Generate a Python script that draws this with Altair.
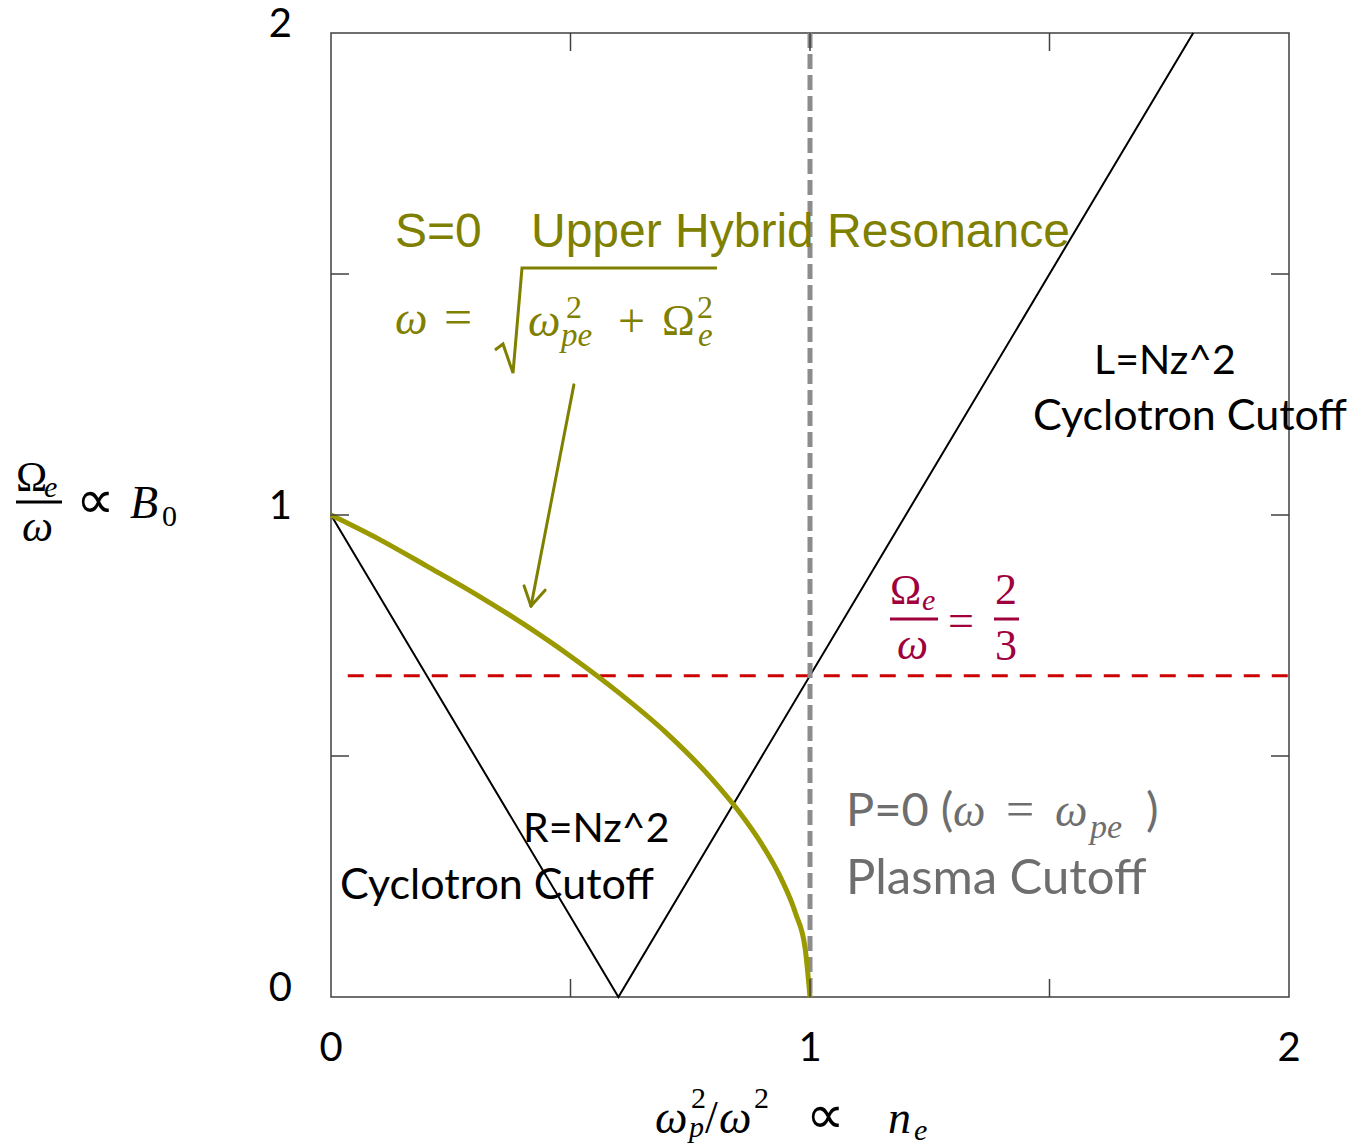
import altair as alt
import pandas as pd

# ---- data -------------------------------------------------------------
# R / L cyclotron cutoff lines (V shape)
cutoff_x = [0.0, 0.6, 1.8]
cutoff_y = [1.0, 0.0, 2.0]

# upper hybrid resonance curve S = 0
uh_x = [0.0, 0.1, 0.2, 0.3, 0.4, 0.5, 0.6, 0.7, 0.8, 0.85, 0.9, 0.94, 0.97, 0.99, 1.0]
uh_y = [1.0, 0.95, 0.894, 0.837, 0.775, 0.707, 0.632, 0.548, 0.447, 0.387, 0.316, 0.245, 0.173, 0.1, 0.0]

# Omega_e / omega = 2/3 level and plasma cutoff position
ratio_level = 2 / 3
ratio_span = [0.035, 2.0]
plasma_x = 1.0

# axis ticks and labels
minor_ticks = [0.5, 1.0, 1.5]
tick_labels = [0, 1, 2]

# annotation arrow (tail -> tip, plus two head barbs)
arrow_x = [0.507, 0.4175]
arrow_y = [1.270, 0.811]
barb_x = [0.403, 0.447]
barb_y = [0.853, 0.844]

# ---- layout -----------------------------------------------------------
W, H = 958, 964
OX, OY = 331, 33          # plot origin inside the page

OLIVE_TXT = "#808000"
OLIVE_LINE = "#9a9a00"
CRIMSON = "#a0003c"
GREY_TXT = "#6e6e6e"
SANS = "Lato"
MATH = "Liberation Serif"
SYM = "DejaVu Sans"

xs = alt.Scale(domain=[0, 2], nice=False, zero=False)
ys = alt.Scale(domain=[0, 2], nice=False, zero=False)
hidden_axis = alt.Axis(labels=False, ticks=False, domain=False, grid=False, title=None)


def txt(s, px, py, size, color="black", font=SANS, italic=False, align="left"):
    """Text placed by page pixel position (left edge, alphabetic baseline)."""
    return alt.Chart(pd.DataFrame({"t": [s]})).mark_text(
        font=font,
        fontSize=size,
        fontStyle="italic" if italic else "normal",
        color=color,
        align=align,
        baseline="alphabetic",
    ).encode(text="t:N", x=alt.value(px - OX), y=alt.value(py - OY))


def seg(x1, y1, x2, y2, color, width):
    """Straight pen stroke given in page pixels (fraction bars)."""
    return alt.Chart(pd.DataFrame({"a": [0]})).mark_rule(
        color=color, strokeWidth=width
    ).encode(
        x=alt.value(x1 - OX), x2=alt.value(x2 - OX),
        y=alt.value(y1 - OY), y2=alt.value(y2 - OY),
    )


# ---- curves -----------------------------------------------------------
cut_df = pd.DataFrame({"x": cutoff_x, "y": cutoff_y, "o": range(len(cutoff_x))})
cutoff = alt.Chart(cut_df).mark_line(color="black", strokeWidth=2).encode(
    x=alt.X("x:Q", scale=xs, axis=hidden_axis),
    y=alt.Y("y:Q", scale=ys, axis=hidden_axis),
    order="o:Q",
)

uh_df = pd.DataFrame({"x": uh_x, "y": uh_y, "o": range(len(uh_x))})
uh = alt.Chart(uh_df).mark_line(
    color=OLIVE_LINE, strokeWidth=5, interpolate="monotone"
).encode(
    x=alt.X("x:Q", scale=xs, axis=None),
    y=alt.Y("y:Q", scale=ys, axis=None),
    order="o:Q",
)

ratio_rule = alt.Chart(pd.DataFrame({"y": [ratio_level]})).mark_rule(
    color="#cc0000", strokeWidth=3, strokeDash=[16, 12]
).encode(
    y=alt.Y("y:Q", scale=ys, axis=None),
    x=alt.datum(ratio_span[0], scale=xs),
    x2=alt.datum(ratio_span[1]),
)

plasma_rule = alt.Chart(pd.DataFrame({"x": [plasma_x]})).mark_rule(
    color="#8c8c8c", strokeWidth=5, strokeDash=[15, 6]
).encode(x=alt.X("x:Q", scale=xs, axis=None))

# ---- frame ticks and tick labels ---------------------------------------
tick_df = pd.DataFrame({"v": minor_ticks})
TL = 18
tick_style = dict(color="#404040", strokeWidth=1.5)
ticks_bottom = alt.Chart(tick_df).mark_rule(**tick_style).encode(
    x=alt.X("v:Q", scale=xs, axis=None), y=alt.value(H), y2=alt.value(H - TL))
ticks_top = alt.Chart(tick_df).mark_rule(**tick_style).encode(
    x=alt.X("v:Q", scale=xs, axis=None), y=alt.value(0), y2=alt.value(TL))
ticks_left = alt.Chart(tick_df).mark_rule(**tick_style).encode(
    y=alt.Y("v:Q", scale=ys, axis=None), x=alt.value(0), x2=alt.value(TL))
ticks_right = alt.Chart(tick_df).mark_rule(**tick_style).encode(
    y=alt.Y("v:Q", scale=ys, axis=None), x=alt.value(W - TL), x2=alt.value(W))

lab_df = pd.DataFrame({"v": tick_labels})
x_labels = alt.Chart(lab_df).mark_text(
    font=SANS, fontSize=40, color="black", align="center", baseline="middle"
).encode(
    x=alt.X("v:Q", scale=xs, axis=None), y=alt.value(H + 52), text="v:N")
y_labels = alt.Chart(lab_df).mark_text(
    font=SANS, fontSize=40, color="black", align="right", baseline="middle", dy=-8
).encode(
    y=alt.Y("v:Q", scale=ys, axis=None), x=alt.value(-39), text="v:N")

# ---- arrow pointing at the resonance curve -----------------------------
arrow_df = pd.DataFrame({
    "x": [arrow_x[0], barb_x[0], barb_x[1]],
    "y": [arrow_y[0], barb_y[0], barb_y[1]],
    "x2": [arrow_x[1]] * 3,
    "y2": [arrow_y[1]] * 3,
})
arrow = alt.Chart(arrow_df).mark_rule(color=OLIVE_TXT, strokeWidth=3, strokeCap="round").encode(
    x=alt.X("x:Q", scale=xs, axis=None), y=alt.Y("y:Q", scale=ys, axis=None),
    x2="x2:Q", y2="y2:Q",
)

# radical sign of the resonance formula
rad_df = pd.DataFrame({
    "px": [495 - OX, 503 - OX, 513 - OX, 522 - OX, 717 - OX],
    "py": [350 - OY, 344 - OY, 373 - OY, 268 - OY, 268 - OY],
    "o": range(5),
})
radical = alt.Chart(rad_df).mark_line(color=OLIVE_TXT, strokeWidth=3).encode(
    x=alt.X("px:Q", scale=None), y=alt.Y("py:Q", scale=None), order="o:Q")

texts = [
    # S = 0 upper hybrid resonance
    txt("S=0", 395, 247, 48, OLIVE_TXT, font="Liberation Sans"),
    txt("Upper Hybrid Resonance", 531, 247, 48, OLIVE_TXT, font="Liberation Sans"),
    txt("ω", 395, 334, 46, OLIVE_TXT, MATH, True),
    txt("=", 444, 334, 50, OLIVE_TXT, MATH),
    txt("ω", 528, 336, 46, OLIVE_TXT, MATH, True),
    txt("2", 566, 318, 32, OLIVE_TXT, MATH),
    txt("pe", 561, 346, 33, OLIVE_TXT, MATH, True),
    txt("+", 618, 337, 48, OLIVE_TXT, MATH),
    txt("Ω", 662, 335, 44, OLIVE_TXT, MATH),
    txt("2", 697, 318, 32, OLIVE_TXT, MATH),
    txt("e", 698, 346, 33, OLIVE_TXT, MATH, True),
    # L cutoff
    txt("L=Nz^2", 1165, 374, 41, align="center"),
    txt("Cyclotron Cutoff", 1190, 430, 43, align="center"),
    # R cutoff
    txt("R=Nz^2", 523, 842, 41),
    txt("Cyclotron Cutoff", 340, 899, 43),
    # plasma cutoff
    txt("P=0 (", 846, 826, 47, GREY_TXT),
    txt("ω", 953, 826, 46, GREY_TXT, MATH, True),
    txt("=", 1006, 826, 50, GREY_TXT, MATH),
    txt("ω", 1055, 826, 46, GREY_TXT, MATH, True),
    txt("pe", 1090, 838, 34, GREY_TXT, MATH, True),
    txt(")", 1146, 826, 47, GREY_TXT),
    txt("Plasma Cutoff", 846, 894, 49, GREY_TXT),
    # Omega_e / omega = 2/3
    txt("Ω", 890, 604, 42, CRIMSON, MATH),
    txt("e", 922, 610, 30, CRIMSON, MATH, True),
    txt("ω", 897, 659, 44, CRIMSON, MATH, True),
    txt("=", 948, 636, 46, CRIMSON, MATH),
    txt("2", 995, 604, 44, CRIMSON, MATH),
    txt("3", 995, 660, 44, CRIMSON, MATH),
    # y-axis title
    txt("Ω", 16, 491, 42, "black", MATH),
    txt("e", 44, 497, 30, "black", MATH, True),
    txt("ω", 22, 541, 44, "black", MATH, True),
    txt("∝", 76, 518, 54, "black", SYM),
    txt("B", 130, 518, 46, "black", MATH, True),
    txt("0", 162, 526, 30, "black", MATH),
    # x-axis title
    txt("ω", 655, 1133, 46, "black", MATH, True),
    txt("2", 691, 1108, 30, "black", MATH),
    txt("p", 689, 1137, 30, "black", MATH, True),
    txt("/", 705, 1133, 46, "black", MATH),
    txt("ω", 719, 1133, 46, "black", MATH, True),
    txt("2", 754, 1108, 30, "black", MATH),
    txt("∝", 806, 1133, 54, "black", SYM),
    txt("n", 888, 1133, 46, "black", MATH, True),
    txt("e", 914, 1140, 30, "black", MATH, True),
]

bars = [
    seg(890, 619, 938, 619, CRIMSON, 3),
    seg(994, 619, 1019, 619, CRIMSON, 3),
    seg(16, 502, 62, 502, "black", 3),
]

chart = alt.layer(
    cutoff, ratio_rule, plasma_rule, uh,
    ticks_bottom, ticks_top, ticks_left, ticks_right,
    x_labels, y_labels,
    arrow, radical, *bars, *texts,
).properties(
    width=W, height=H,
    autosize=alt.AutoSizeParams(type="none"),
    padding={"left": OX, "top": OY, "right": 1357 - OX - W, "bottom": 1148 - OY - H},
).configure(
    background="white",
    view=alt.ViewConfig(stroke="#404040", strokeWidth=1.5),
)

chart.save("out.html", embed_options={"renderer": "svg", "actions": False})
